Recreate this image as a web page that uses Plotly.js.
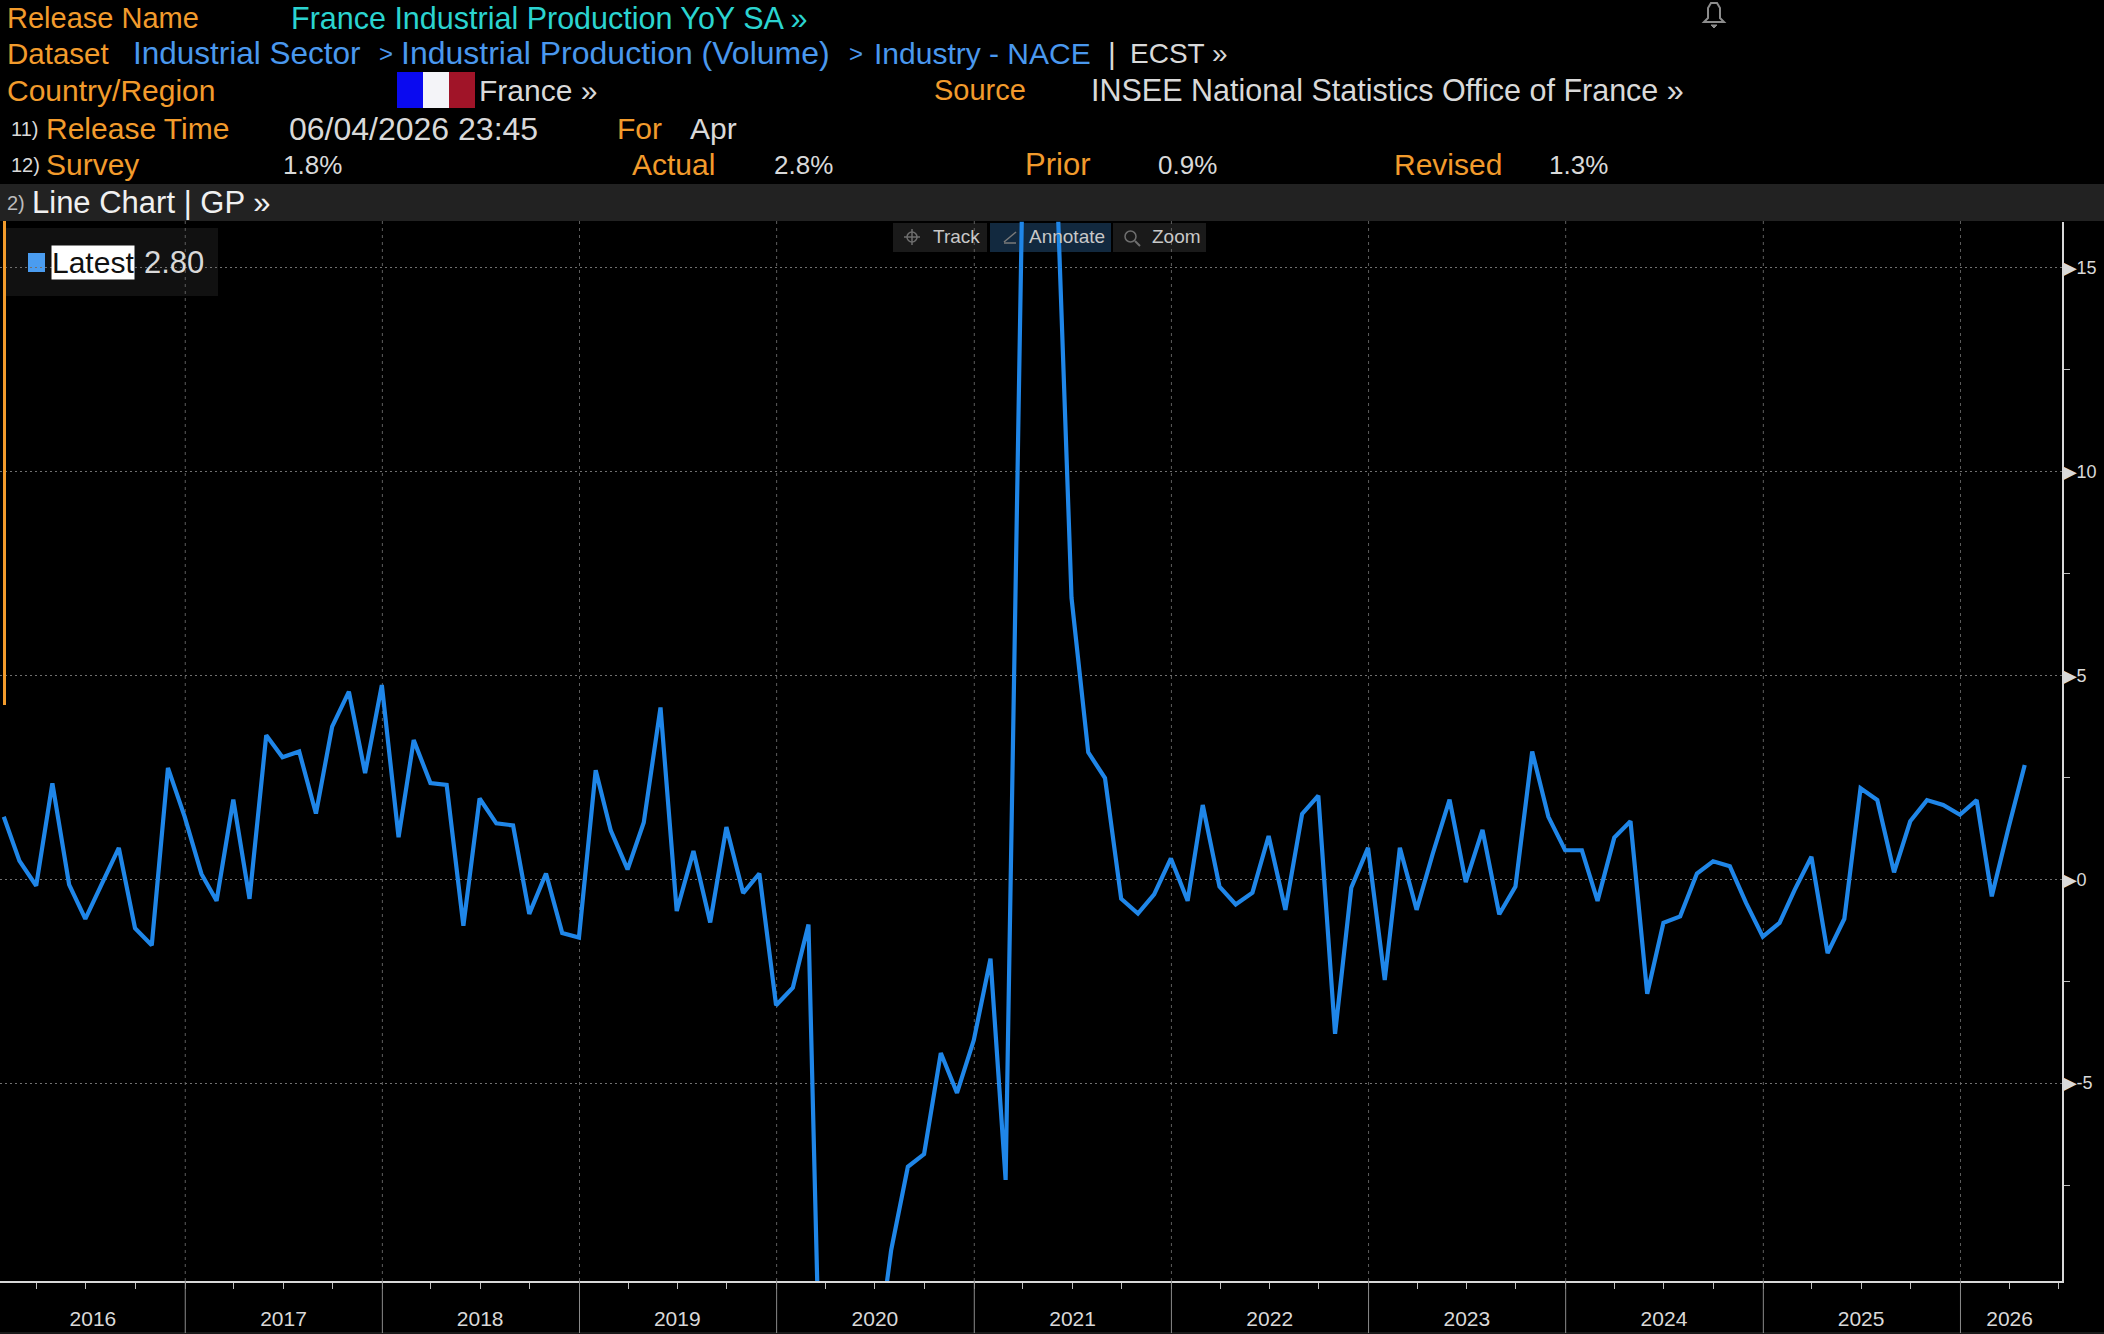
<!DOCTYPE html>
<html><head><meta charset="utf-8">
<script src="https://cdn.plot.ly/plotly-3.0.1.min.js"></script>
<style>html,body{margin:0;padding:0;background:#000}#c{width:2104px;height:1334px}</style></head>
<body><div id="c"></div>
<script>
var W=2104,H=1334;
var startYear=2016;
var yoy2016=[1.53,0.45,-0.16,2.35,-0.13,-0.97,-0.10,0.77,-1.20,-1.62,2.73,1.53];
var yoy2017=[0.13,-0.53,1.95,-0.48,3.53,2.99,3.13,1.61,3.74,4.60,2.60,4.76];
var yoy2018=[1.03,3.41,2.36,2.31,-1.14,1.98,1.37,1.32,-0.85,0.14,-1.32,-1.43];
var yoy2019=[2.67,1.19,0.24,1.39,4.21,-0.78,0.69,-1.06,1.28,-0.34,0.14,-3.09];
var yoy2020=[-2.66,-1.11,-17.9,-34.0,-22.0,-12.2,-9.1,-7.05,-6.74,-4.26,-5.24,-3.95];
var yoy2021=[-1.95,-7.37,17.0,44.0,18.2,6.9,3.11,2.48,-0.48,-0.84,-0.37,0.51];
var yoy2022=[-0.53,1.82,-0.18,-0.62,-0.33,1.06,-0.75,1.60,2.05,-3.79,-0.21,0.77];
var yoy2023=[-2.47,0.77,-0.75,0.63,1.95,-0.07,1.21,-0.86,-0.18,3.13,1.53,0.71];
var yoy2024=[0.71,-0.53,1.02,1.42,-2.81,-1.07,-0.91,0.14,0.44,0.32,-0.58,-1.41];
var yoy2025=[-1.07,-0.26,0.55,-1.81,-0.97,2.23,1.94,0.17,1.42,1.94,1.82,1.58];
var yoy2026=[1.94,-0.42,1.26,2.80];
var values=[].concat(yoy2016,yoy2017,yoy2018,yoy2019,yoy2020,yoy2021,yoy2022,yoy2023,yoy2024,yoy2025,yoy2026);
var yTickVals=[-5,0,5,10,15];
var yearStarts=['2017-01-01','2018-01-01','2019-01-01','2020-01-01','2021-01-01','2022-01-01','2023-01-01','2024-01-01','2025-01-01','2026-01-01'];
var yearLabels=['2016','2017','2018','2019','2020','2021','2022','2023','2024','2025','2026'];
var yearLabelDates=['2016-07-14','2017-07-02','2018-07-01','2019-07-01','2020-07-01','2021-07-02','2022-07-02','2023-07-02','2024-07-01','2025-07-01','2026-04-02'];

function monthEnd(i){var d=new Date(Date.UTC(startYear,i+1,0));return d.toISOString().slice(0,10);}
var dates=values.map(function(_,i){return monthEnd(i);});

var C={o:'#F29B2C',c:'#2BD4D0',b:'#4A98EE',w:'#D9D9D9'};
var FONT='"Liberation Sans",sans-serif';
function px(x){return x/W;} function py(y){return 1-y/H;}
var ann=[];
function T(x,y,t,col,size,extra){var a={xref:'paper',yref:'paper',x:px(x-1.5),y:py(y-0.5),text:t,showarrow:false,xanchor:'left',yanchor:'middle',
 font:{family:FONT,size:size||30,color:col},borderpad:0};if(extra)for(var k in extra)a[k]=extra[k];ann.push(a);}
T(7,18,'Release Name',C.o,29);T(291,18,'France Industrial Production YoY SA »',C.c,30.5);
T(7,54,'Dataset',C.o,29.5);T(133,54,'Industrial Sector',C.b,31.5);T(379,54,'>',C.b,24);T(401,54,'Industrial Production (Volume)',C.b,32);
T(849,54,'>',C.b,24);T(874,54,'Industry - NACE',C.b,30);T(1108,54,'|',C.w);T(1130,54,'ECST »',C.w,28);
T(7,91,'Country/Region',C.o,30);T(479,91,'France »',C.w);T(934,91,'Source',C.o,29);T(1091,91,'INSEE National Statistics Office of France »',C.w,30.5);
T(11,129,'11)',C.w,20);T(46,129,'Release Time',C.o);T(289,129,'06/04/2026 23:45',C.w,32);T(617,129,'For',C.o);T(690,129,'Apr',C.w);
T(11,165,'12)',C.w,20);T(46,165,'Survey',C.o);T(283,165,'1.8%',C.w,26);T(632,165,'Actual',C.o);T(774,165,'2.8%',C.w,26);
T(1025,165,'Prior',C.o,31);T(1158,165,'0.9%',C.w,26);T(1394,165,'Revised',C.o);T(1549,165,'1.3%',C.w,26);
T(7,203,'2)','#BBBBBB',20);T(32,203,'Line Chart | GP »','#F0F0F0',31);
T(52,263,'Latest','#111111',30,{bgcolor:'#FFFFFF'});T(144,263,'2.80',C.w,31);
T(933,237,'Track','#C8C8C8',19);
T(1029,237,'Annotate','#C8C8C8',19);
T(1152,237,'Zoom','#C8C8C8',19);

function box(x0,y0,x1,y1,col,layer){return {type:'rect',xref:'paper',yref:'paper',x0:px(x0),x1:px(x1),y0:py(y0),y1:py(y1),fillcolor:col,line:{width:0},layer:layer||'below'};}
function seg(x0,y0,x1,y1,col,w,layer){return {type:'line',xref:'paper',yref:'paper',x0:px(x0),x1:px(x1),y0:py(y0),y1:py(y1),line:{color:col,width:w},layer:layer||'above'};}
var shapes=[
 box(0,184,W,221,'#222222'),
 box(397,72,423,108,'#0A0AF0'),box(423,72,449,108,'#F4F4F8'),box(449,72,475,108,'#A01428'),
 box(5,228,218,296,'#111111'),box(28,253,45,272,'#4A9CF0'),
 box(893,223,987,252,'#1A1A1A'),box(990,223,1111,252,'#12293F'),box(1113,223,1206,252,'#1A1A1A'),
 box(3,221,6,705,C.o,'above'),
 seg(0,1333,W,1333,'#333333',1)
];
yearStarts.forEach(function(d){
 shapes.push({type:'line',xref:'x',yref:'paper',x0:d,x1:d,y0:py(1281),y1:py(1333),line:{color:'#8A8A8A',width:1},layer:'above'});
 shapes.push({type:'line',xref:'x',yref:'paper',x0:d,x1:d,y0:py(1281),y1:py(221),line:{color:'#5E5E5E',width:1,dash:'3px,4px'},layer:'below'});
});
function P(pts,close){return pts.map(function(p,i){return (i?'L':'M')+px(p[0]).toFixed(5)+','+py(p[1]).toFixed(5);}).join(' ')+(close?' Z':'');}
shapes.push({type:'path',xref:'paper',yref:'paper',path:P([[1704,22],[1708,18],[1708,8],[1711,3],[1717,3],[1720,8],[1720,18],[1724,22]],true),line:{color:'#8C8C8C',width:2},fillcolor:'rgba(0,0,0,0)'});
shapes.push({type:'path',xref:'paper',yref:'paper',path:P([[1711,25],[1717,25],[1714,28]],true),line:{color:'#8C8C8C',width:1},fillcolor:'#8C8C8C'});
shapes.push(seg(904,237,920,237,'#6E6E6E',1.5),seg(912,229,912,245,'#6E6E6E',1.5),
 {type:'circle',xref:'paper',yref:'paper',x0:px(907),x1:px(917),y0:py(232),y1:py(242),line:{color:'#6E6E6E',width:1.5}},
 seg(1004,242,1016,232,'#7A7A7A',1.5),seg(1004,243,1016,243,'#7A7A7A',1.5),
 {type:'circle',xref:'paper',yref:'paper',x0:px(1125),x1:px(1136),y0:py(231),y1:py(242),line:{color:'#6E6E6E',width:1.5}},
 seg(1135,241,1140,246,'#6E6E6E',2));

var trace={type:'scatter',mode:'lines',x:dates,y:values,line:{color:'#1F86E8',width:4.2,shape:'linear'},hoverinfo:'x+y',showlegend:false};
var layout={width:W,height:H,paper_bgcolor:'#000',plot_bgcolor:'#000',showlegend:false,
 margin:{l:0,r:0,t:0,b:0,pad:0},
 xaxis:{type:'date',domain:[0,2062/W],anchor:'y',range:['2016-01-24','2026-07-08'],
  tickmode:'array',tickvals:yearLabelDates,ticktext:yearLabels,
  showgrid:false,showline:true,linecolor:'#D8D8D8',linewidth:2,ticks:'',
  minor:{tickmode:'linear',dtick:'M3',tick0:'2016-01-01',ticks:'outside',ticklen:6,tickcolor:'#BEBEBE',tickwidth:1,showgrid:false},
  tickfont:{family:FONT,size:21,color:'#D9D9D9'},ticklabelstandoff:18,zeroline:false,fixedrange:true},
 yaxis:{domain:[1-1281/H,1-221.7/H],anchor:'x',side:'right',range:[-9.85,16.12],
  tickmode:'array',tickvals:yTickVals,ticktext:yTickVals.map(function(v){return '▶'+v;}),
  showgrid:true,gridcolor:'#707070',griddash:'2px,3px',gridwidth:1,zeroline:false,
  showline:true,linecolor:'#D8D8D8',linewidth:2,ticks:'',ticklabelstandoff:-5,
  minor:{tickmode:'linear',dtick:2.5,tick0:0,ticks:'outside',ticklen:6,tickcolor:'#BEBEBE',tickwidth:1,showgrid:false},
  tickfont:{family:FONT,size:18,color:'#D9D9D9'},fixedrange:true},
 shapes:shapes,annotations:ann};
Plotly.newPlot('c',[trace],layout,{displayModeBar:false});
</script></body></html>
